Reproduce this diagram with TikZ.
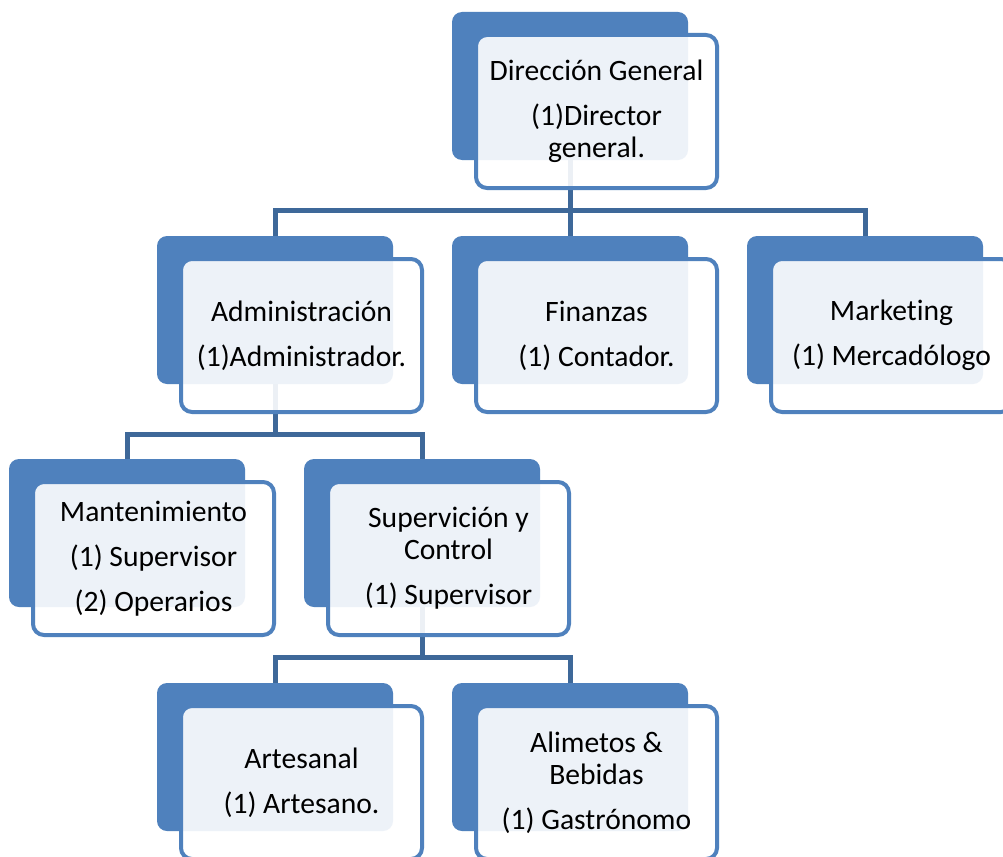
\documentclass[tikz,border=0pt]{standalone}
\usepackage{fontspec}
\setmainfont{Carlito}[Ligatures=NoCommon]
\definecolor{accent}{HTML}{4F81BD}
\definecolor{connc}{HTML}{3E6899}
\tikzset{
  backbox/.style={draw=none, minimum width=236pt, minimum height=148pt, inner sep=0pt, outer sep=0pt},
  backfill/.style={fill=accent, rounded corners=10pt},
  frontbox/.style={draw=accent, line width=4pt, fill=white, fill opacity=0.9, text opacity=1, rounded corners=11pt, minimum width=241pt, minimum height=153pt, inner sep=2pt, align=center, font=\fontsize{29.6}{32}\selectfont},
  conn/.style={draw=connc, line width=5pt}
}
\begin{document}
\begin{tikzpicture}[x=1pt,y=-1pt]
\clip (0,0) rectangle (1003,856);
\fill[white] (0,0) rectangle (1003,856);
% back boxes (positions)
\node[backbox] (dirB) at (570,86) {};
\node[backbox] (admB) at (275,310) {};
\node[backbox] (finB) at (570,310) {};
\node[backbox] (mktB) at (865,310) {};
\node[backbox] (manB) at (127,533) {};
\node[backbox] (supB) at (422,533) {};
\node[backbox] (artB) at (275,757) {};
\node[backbox] (aliB) at (570,757) {};
% connectors
\path (dirB.south) ++(0,50) coordinate (b1);
\path (admB.south) ++(0,50) coordinate (b2);
\path (supB.south) ++(0,50) coordinate (b3);
\draw[conn] (dirB.south) -- (b1);
\draw[conn] (b1) -| (admB.north);
\draw[conn] (b1) -| (finB.north);
\draw[conn] (b1) -| (mktB.north);
\draw[conn] (admB.south) -- (b2);
\draw[conn] (b2) -| (manB.north);
\draw[conn] (b2) -| (supB.north);
\draw[conn] (supB.south) -- (b3);
\draw[conn] (b3) -| (artB.north);
\draw[conn] (b3) -| (aliB.north);
% back box fills
\foreach \n in {dirB,admB,finB,mktB,manB,supB,artB,aliB}
  \fill[backfill] (\n.south west) rectangle (\n.north east);
% front boxes
\node[frontbox] (dir) at (596.5,111.5) {Dirección General\\[13pt](1)Director\\general.};
\node[frontbox] (adm) at (301.5,335.5) {Administración\\[13pt](1)Administrador.};
\node[frontbox] (fin) at (596.5,335.5) {Finanzas\\[13pt](1) Contador.};
\node[frontbox] (mkt) at (891.5,335.5) {Marketing\\[13pt](1) Mercadólogo};
\node[frontbox] (man) at (153.5,558.5) {Mantenimiento\\[13pt](1) Supervisor\\[13pt](2) Operarios};
\node[frontbox] (sup) at (448.5,558.5) {Supervición y\\Control\\[13pt](1) Supervisor};
\node[frontbox] (art) at (301.5,782.5) {Artesanal\\[13pt](1) Artesano.};
\node[frontbox] (ali) at (596.5,782.5) {Alimetos \&\\Bebidas\\[13pt](1) Gastrónomo};
\end{tikzpicture}
\end{document}
